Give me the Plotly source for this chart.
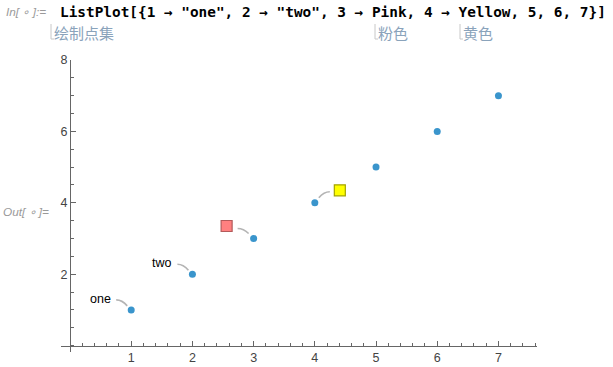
import plotly.graph_objects as go

# ---- data ----
xs = [1, 2, 3, 4, 5, 6, 7]
ys = [1, 2, 3, 4, 5, 6, 7]
text_labels = ["one", "two", None, None, None, None, None]
swatch_labels = [None, None, "Pink", "Yellow", None, None, None]
swatch_colors = {"Pink": ("#ff8080", "#b35a5a"), "Yellow": ("#ffff00", "#a3a300")}
x_ticks = [1, 2, 3, 4, 5, 6, 7]
y_ticks = [2, 4, 6, 8]
code_text = 'ListPlot[{1 → "one", 2 → "two", 3 → Pink, 4 → Yellow, 5, 6, 7}]'
zh_notes = [("绘制点集", 51), ("粉色", 375), ("黄色", 460)]

# ---- geometry ----
W, H = 613, 367
L, R, T, B = 61, 537, 60, 352
xr = [-0.147, 7.63]
yr = [-0.18, 8.0]

def px(xp):
    return (xp - L) / (R - L)

def py(yp):
    return (B - yp) / (B - T)

fig = go.Figure()
fig.add_trace(go.Scatter(
    x=xs, y=ys, mode="markers",
    marker=dict(color="#3a95cc", size=7, line=dict(width=0)),
    hoverinfo="skip", showlegend=False, cliponaxis=False))

shapes = []
annotations = []
curve_col = "#b4b4b4"
for x, y, t, s in zip(xs, ys, text_labels, swatch_labels):
    if t is not None:
        annotations.append(dict(x=x, y=y, xref="x", yref="y", text=t, showarrow=False,
                                xanchor="right", yanchor="middle", xshift=-18, yshift=11,
                                font=dict(family="Liberation Sans", size=12.5, color="#000")))
        shapes.append(dict(type="path", xref="x", yref="y", xsizemode="pixel", ysizemode="pixel",
                           xanchor=x, yanchor=y, path="M -15,10 Q -9,10 -4,4",
                           line=dict(color=curve_col, width=1.6)))
    if s is not None:
        fill, edge = swatch_colors[s]
        if s == "Pink":
            cx, cy = -27, 12.5
            path = "M -16,10 Q -10,10 -5,5"
        else:
            cx, cy = 25, 12.5
            path = "M 4,5 Q 9,11 15,11"
        shapes.append(dict(type="path", xref="x", yref="y", xsizemode="pixel", ysizemode="pixel",
                           xanchor=x, yanchor=y, path=path,
                           line=dict(color=curve_col, width=1.6)))
        shapes.append(dict(type="rect", xref="x", yref="y", xsizemode="pixel", ysizemode="pixel",
                           xanchor=x, yanchor=y, x0=cx - 5.5, x1=cx + 5.5, y0=cy - 5.5, y1=cy + 5.5,
                           fillcolor=fill, line=dict(color=edge, width=1.2)))

# header
annotations.append(dict(x=px(58), y=py(12), xref="paper", yref="paper", text="<b>" + code_text + "</b>",
                        showarrow=False, xanchor="left", yanchor="middle",
                        font=dict(family="DejaVu Sans Mono", size=14.4, color="#000")))
annotations.append(dict(x=px(4), y=py(12), xref="paper", yref="paper", text="<i>In[ ∘ ]:=</i>",
                        showarrow=False, xanchor="left", yanchor="middle",
                        font=dict(family="Liberation Sans", size=11.8, color="#9a9a9a")))
annotations.append(dict(x=px(1), y=py(212), xref="paper", yref="paper", text="<i>Out[ ∘ ]=</i>",
                        showarrow=False, xanchor="left", yanchor="middle",
                        font=dict(family="Liberation Sans", size=11.8, color="#9a9a9a")))
for txt, xp in zh_notes:
    annotations.append(dict(x=px(xp + 1), y=py(32), xref="paper", yref="paper", text=txt,
                            showarrow=False, xanchor="left", yanchor="middle",
                            font=dict(family="Noto Sans CJK SC", size=15, color="#8aa3bb")))
    shapes.append(dict(type="path", xref="paper", yref="paper",
                       path=f"M {px(xp)},{py(24)} L {px(xp)},{py(39)} L {px(xp + 3)},{py(39)}",
                       line=dict(color="#c8c8c8", width=1)))

axis_common = dict(showgrid=False, zeroline=False, showline=True, linecolor="#666666", linewidth=1,
                   ticks="inside", ticklen=5, tickcolor="#666666", tickwidth=1,
                   tickfont=dict(family="Liberation Sans", size=12.5, color="#444444"),
                   fixedrange=True, automargin=False)

fig.update_layout(
    width=W, height=H,
    margin=dict(l=L, r=W - R, t=T, b=H - B, pad=0, autoexpand=False),
    paper_bgcolor="white", plot_bgcolor="white",
    showlegend=False,
    xaxis=dict(range=xr, tickmode="array", tickvals=x_ticks, anchor="free",
               position=(0 - yr[0]) / (yr[1] - yr[0]),
               minor=dict(dtick=0.2, tick0=0, ticks="inside", ticklen=3, tickcolor="#666666"),
               **axis_common),
    yaxis=dict(range=yr, tickmode="array", tickvals=y_ticks, anchor="free",
               position=(0 - xr[0]) / (xr[1] - xr[0]),
               minor=dict(dtick=0.5, tick0=0, ticks="inside", ticklen=3, tickcolor="#666666"),
               **axis_common),
    shapes=shapes, annotations=annotations,
)

fig.write_html("out.html", config={"displayModeBar": False},
               post_script="document.body.style.margin='0';document.body.style.overflow='hidden';")
